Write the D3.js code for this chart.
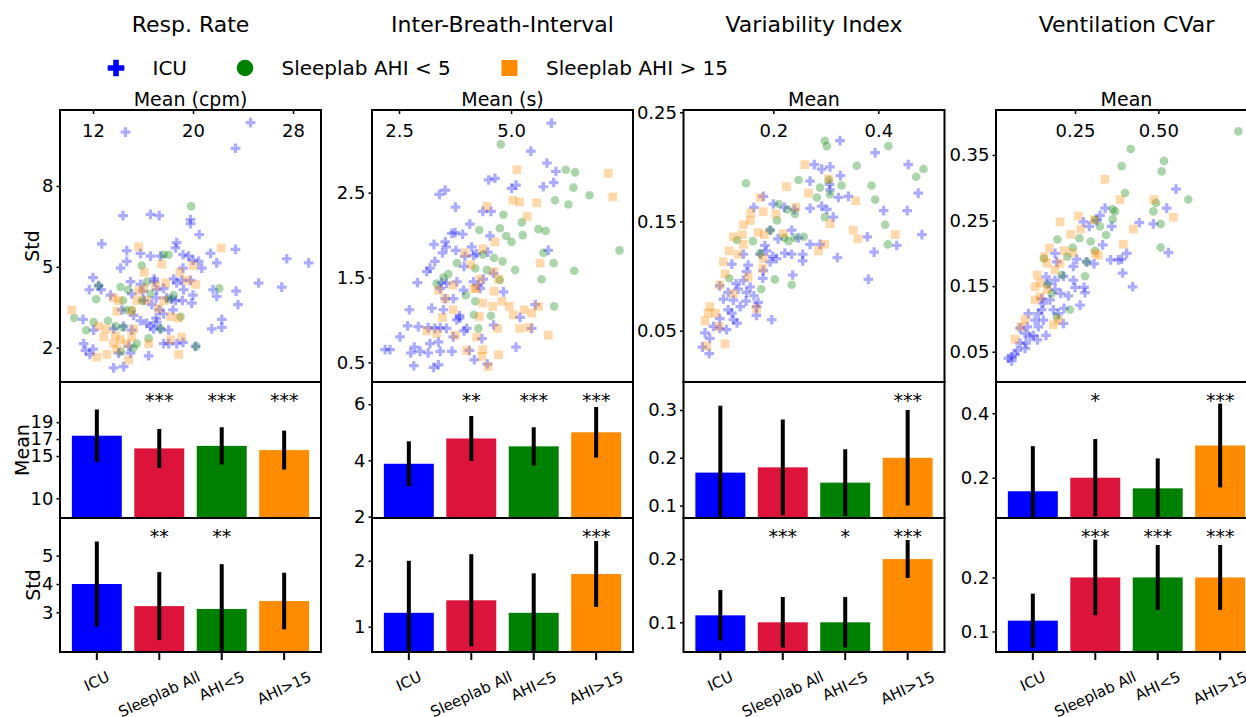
<!DOCTYPE html>
<html><head>
<meta charset="utf-8">
<title>Breathing features - ICU vs Sleeplab</title>
<script src="https://d3js.org/d3.v7.min.js"></script>
<style>
  body { margin: 0; background: #fff; }
  svg text { font-family: "DejaVu Sans", sans-serif; fill: #000; }
  .frame { fill: none; stroke: #000; stroke-width: 2px; }
  .axis .domain { display: none; }
  .axis line { stroke: #000; stroke-width: 1.5px; }
</style>
</head>
<body>
<svg id="fig" width="1246" height="717"></svg>
<script>
// ---- data ----
const titles = ["Resp. Rate", "Inter-Breath-Interval", "Variability Index", "Ventilation CVar"];
const xLabels = ["Mean (cpm)", "Mean (s)", "Mean", "Mean"];
const groups = ["ICU", "Sleeplab All", "AHI<5", "AHI>15"];
const legendNames = ["ICU", "Sleeplab AHI < 5", "Sleeplab AHI > 15"];

// scatter: [mean, std] per patient
const rrIcu = [[14.6,10.0],[24.6,10.35],[23.4,9.4],[14.4,6.9],[16.6,6.95],[17.3,6.9],[19.8,6.75],[19.8,6.6],[20.5,6.2],[12.7,5.85],[14.7,5.6],[15.8,5.5],[16.6,5.4],[17.4,5.4],[18.7,5.9],[18.6,5.7],[19.2,5.45],[19.65,5.4],[20.0,5.25],[20.45,5.2],[20.7,4.95],[21.4,5.5],[21.9,5.15],[23.4,5.65],[27.5,5.3],[29.25,5.15],[12.0,4.6],[11.7,4.15],[12.45,4.3],[13.4,3.95],[14.2,4.95],[14.7,5.2],[15.0,4.45],[15.8,4.35],[16.0,4.1],[16.1,3.75],[16.9,4.55],[16.9,4.45],[17.1,4.15],[17.65,4.2],[17.9,3.85],[17.05,3.85],[18.45,4.55],[18.7,4.4],[19.1,4.5],[19.25,4.15],[19.8,4.5],[20.0,3.95],[19.15,3.75],[18.6,3.75],[19.9,3.65],[18.4,3.4],[17.3,3.4],[16.7,3.6],[15.8,3.0],[16.3,2.9],[16.6,2.8],[17.1,2.95],[16.85,2.7],[17.4,2.7],[18.05,2.65],[17.65,2.15],[18.05,2.15],[18.7,2.15],[19.2,2.2],[17.65,3.25],[17.05,3.1],[15.25,3.2],[13.65,2.7],[14.45,2.8],[15.1,2.65],[14.85,2.05],[15.0,1.8],[14.05,1.8],[13.65,1.25],[14.45,1.3],[16.45,1.7],[11.25,2.15],[12.0,1.95],[11.75,1.75],[11.4,1.9],[11.2,3.05],[12.05,2.65],[14.3,3.4],[12.65,4.15],[20.2,2.05],[21.6,4.15],[21.9,3.9],[22.3,3.05],[22.3,2.75],[21.5,2.7],[23.45,4.1],[23.6,3.6],[25.25,4.4],[27.1,4.25],[19.2,4.95],[15.1,4.0],[18.3,3.8]];
const rrAhiLow = [[19.85,7.25],[18.05,5.45],[17.65,5.45],[15.9,5.05],[12.45,4.3],[12.25,3.8],[10.5,3.1],[11.45,2.65],[12.05,2.95],[13.2,3.0],[14.2,4.25],[14.8,4.15],[14.4,3.75],[14.65,3.4],[15.1,3.4],[13.8,2.8],[14.4,2.75],[15.25,2.0],[14.25,1.85],[15.5,2.15],[16.45,2.35],[17.4,2.7],[18.05,3.8],[15.9,3.75],[20.25,2.05],[22.1,4.2],[19.0,3.15],[16.6,4.0],[16.3,4.45],[18.45,3.95]];
const rrAhiHigh = [[10.3,3.4],[15.65,5.75],[22.25,5.7],[16.1,4.8],[17.5,5.1],[17.8,4.4],[17.0,4.3],[15.65,4.1],[15.5,3.75],[16.3,3.75],[15.1,3.35],[13.9,3.35],[13.65,3.85],[12.45,2.8],[13.05,2.7],[12.85,2.4],[13.8,2.45],[13.65,2.15],[13.9,1.95],[13.1,1.75],[12.3,1.65],[14.85,1.55],[14.7,2.15],[15.1,2.4],[15.25,2.7],[16.45,2.15],[17.25,3.45],[18.2,3.15],[18.85,3.1],[18.2,2.3],[19.1,2.4],[18.85,1.75],[18.95,4.8],[19.5,4.5],[20.2,4.35],[20.0,5.05],[17.65,3.75],[16.05,4.2],[14.05,3.75],[14.2,2.3]];

const ibiIcu = [[5.9,3.32],[5.44,2.99],[5.8,2.85],[6.0,2.75],[4.5,2.65],[4.64,2.67],[5.11,2.59],[5.01,2.55],[5.72,2.57],[5.95,2.62],[3.4,2.48],[3.53,2.53],[3.76,2.33],[4.37,2.28],[4.55,2.28],[4.08,2.13],[3.68,2.02],[3.75,2.03],[3.92,2.01],[4.53,1.99],[3.28,1.89],[3.53,1.92],[3.55,1.86],[3.77,1.82],[4.12,1.86],[3.97,1.75],[4.16,1.76],[4.48,1.8],[3.47,1.79],[3.3,1.69],[3.12,1.57],[3.19,1.61],[2.91,1.44],[3.45,1.44],[3.56,1.43],[3.42,1.37],[3.79,1.45],[3.94,1.35],[4.16,1.45],[4.27,1.41],[4.31,1.37],[3.53,1.25],[3.71,1.25],[3.23,1.14],[3.49,1.12],[2.73,1.12],[2.93,0.92],[2.69,0.93],[2.52,0.8],[3.15,0.91],[3.3,0.9],[3.42,0.91],[3.56,0.9],[3.79,1.0],[3.85,1.05],[3.95,0.87],[4.01,0.9],[3.71,0.8],[3.19,0.72],[3.38,0.74],[2.84,0.68],[2.97,0.63],[2.76,0.61],[3.15,0.61],[3.42,0.63],[3.68,0.63],[2.19,0.65],[2.3,0.65],[2.83,0.46],[3.27,0.44],[3.38,0.47],[4.07,0.64],[4.18,0.53],[4.35,0.78],[4.47,0.48],[4.61,0.94],[5.2,1.03],[5.11,0.68],[5.46,0.9],[5.54,1.18],[5.83,1.82],[4.23,1.78],[4.61,1.55],[4.38,1.48],[4.83,1.33],[3.95,1.63],[3.85,1.02]];
const ibiAhiLow = [[4.77,3.07],[6.22,2.77],[6.43,2.74],[6.39,2.56],[6.75,2.47],[5.98,2.41],[6.28,2.36],[4.83,2.24],[5.24,2.15],[4.29,2.06],[4.75,2.08],[4.89,1.99],[5.01,1.92],[5.26,2.0],[5.61,2.07],[5.77,2.05],[5.72,1.79],[7.42,1.82],[4.37,1.77],[4.62,1.73],[3.79,1.67],[4.81,1.69],[5.95,1.67],[3.6,1.54],[3.49,1.5],[3.34,1.43],[3.99,1.29],[4.2,1.61],[4.46,1.59],[4.75,1.47],[5.09,1.59],[5.68,1.48],[6.41,1.58],[4.2,1.22],[5.96,1.16],[4.27,0.9],[4.17,1.06],[4.55,1.05]];
const ibiAhiHigh = [[5.13,2.77],[7.17,2.73],[7.27,2.45],[4.46,2.34],[5.04,2.41],[5.19,2.39],[5.57,2.38],[5.36,2.22],[4.37,1.84],[4.64,1.92],[3.97,1.79],[4.1,1.65],[5.65,1.67],[4.61,1.57],[4.31,1.48],[4.72,1.48],[3.38,1.35],[3.7,1.41],[4.22,1.37],[4.62,1.34],[3.53,1.25],[4.37,1.2],[4.59,1.16],[4.79,1.22],[4.96,1.16],[5.29,1.12],[5.46,1.08],[5.61,1.16],[5.05,1.06],[3.47,1.03],[3.71,1.12],[3.12,0.87],[3.34,0.84],[3.75,0.82],[4.23,0.8],[4.7,0.9],[5.19,0.9],[5.39,0.91],[5.83,0.82],[4.01,0.64],[4.37,0.65],[4.35,0.57],[4.72,0.59],[4.49,0.45],[4.29,1.04],[4.17,1.37]];

const viIcu = [[0.327,0.224],[0.394,0.213],[0.457,0.202],[0.476,0.176],[0.278,0.202],[0.292,0.198],[0.308,0.2],[0.328,0.192],[0.307,0.184],[0.308,0.179],[0.27,0.187],[0.324,0.172],[0.343,0.173],[0.181,0.173],[0.163,0.163],[0.2,0.166],[0.221,0.163],[0.24,0.161],[0.27,0.162],[0.292,0.164],[0.302,0.161],[0.314,0.154],[0.41,0.16],[0.455,0.16],[0.483,0.138],[0.379,0.136],[0.435,0.128],[0.392,0.122],[0.27,0.129],[0.289,0.129],[0.248,0.135],[0.235,0.142],[0.322,0.117],[0.194,0.142],[0.209,0.134],[0.184,0.128],[0.187,0.123],[0.199,0.118],[0.222,0.121],[0.235,0.12],[0.256,0.12],[0.256,0.114],[0.206,0.116],[0.175,0.12],[0.152,0.11],[0.149,0.104],[0.143,0.12],[0.121,0.111],[0.237,0.101],[0.18,0.098],[0.381,0.097],[0.143,0.096],[0.129,0.093],[0.156,0.09],[0.133,0.088],[0.114,0.085],[0.149,0.085],[0.163,0.082],[0.171,0.076],[0.148,0.077],[0.124,0.078],[0.105,0.079],[0.098,0.091],[0.114,0.069],[0.121,0.066],[0.098,0.061],[0.086,0.054],[0.098,0.052],[0.079,0.043],[0.07,0.048],[0.065,0.035],[0.078,0.029],[0.111,0.051],[0.124,0.06],[0.131,0.057],[0.137,0.072],[0.168,0.072],[0.168,0.064],[0.197,0.06],[0.181,0.105],[0.194,0.113]];
const viAhiLow = [[0.148,0.185],[0.298,0.224],[0.302,0.219],[0.419,0.219],[0.359,0.201],[0.486,0.198],[0.472,0.191],[0.248,0.188],[0.289,0.181],[0.306,0.188],[0.33,0.183],[0.387,0.183],[0.283,0.172],[0.394,0.17],[0.308,0.175],[0.21,0.166],[0.227,0.161],[0.207,0.151],[0.241,0.157],[0.298,0.154],[0.413,0.147],[0.418,0.129],[0.131,0.133],[0.161,0.132],[0.194,0.142],[0.221,0.135],[0.241,0.135],[0.258,0.136],[0.229,0.132],[0.175,0.121],[0.203,0.097],[0.235,0.092],[0.177,0.088],[0.116,0.098]];
const viAhiHigh = [[0.26,0.202],[0.305,0.189],[0.225,0.182],[0.267,0.176],[0.175,0.172],[0.357,0.169],[0.157,0.158],[0.181,0.159],[0.205,0.157],[0.243,0.163],[0.156,0.151],[0.143,0.147],[0.308,0.148],[0.352,0.142],[0.361,0.134],[0.432,0.138],[0.124,0.136],[0.141,0.138],[0.171,0.14],[0.183,0.138],[0.219,0.139],[0.143,0.129],[0.116,0.123],[0.133,0.12],[0.298,0.129],[0.286,0.123],[0.105,0.113],[0.108,0.102],[0.181,0.116],[0.18,0.107],[0.098,0.092],[0.124,0.084],[0.079,0.072],[0.076,0.066],[0.09,0.066],[0.07,0.059],[0.097,0.054],[0.108,0.038],[0.073,0.036],[0.168,0.07],[0.152,0.099]];

const vcIcu = [[0.553,0.298],[0.525,0.269],[0.485,0.245],[0.443,0.247],[0.53,0.201],[0.34,0.269],[0.325,0.258],[0.315,0.25],[0.275,0.248],[0.36,0.241],[0.333,0.213],[0.293,0.241],[0.405,0.2],[0.39,0.191],[0.38,0.19],[0.357,0.19],[0.393,0.17],[0.423,0.149],[0.307,0.184],[0.285,0.187],[0.255,0.191],[0.245,0.18],[0.19,0.2],[0.195,0.187],[0.215,0.165],[0.245,0.159],[0.25,0.148],[0.277,0.148],[0.28,0.14],[0.265,0.121],[0.217,0.116],[0.215,0.093],[0.23,0.135],[0.207,0.139],[0.19,0.145],[0.17,0.154],[0.163,0.164],[0.175,0.129],[0.15,0.131],[0.14,0.108],[0.15,0.114],[0.11,0.108],[0.13,0.098],[0.163,0.075],[0.14,0.088],[0.107,0.088],[0.125,0.075],[0.1,0.078],[0.085,0.086],[0.103,0.063],[0.137,0.068],[0.085,0.063],[0.077,0.052],[0.1,0.055],[0.06,0.042],[0.07,0.046],[0.05,0.04],[0.06,0.036],[0.115,0.073],[0.155,0.124],[0.185,0.114],[0.2,0.108],[0.19,0.159],[0.155,0.098]];
const vcAhiLow = [[0.74,0.386],[0.417,0.359],[0.39,0.333],[0.517,0.341],[0.51,0.325],[0.4,0.292],[0.59,0.282],[0.493,0.277],[0.485,0.264],[0.363,0.267],[0.37,0.264],[0.363,0.252],[0.325,0.241],[0.343,0.228],[0.507,0.245],[0.507,0.209],[0.31,0.251],[0.197,0.221],[0.263,0.223],[0.297,0.218],[0.227,0.195],[0.285,0.187],[0.28,0.165],[0.157,0.192],[0.21,0.167],[0.235,0.114],[0.195,0.103],[0.167,0.152],[0.18,0.139],[0.243,0.209],[0.31,0.204]];
const vcAhiHigh = [[0.34,0.313],[0.385,0.282],[0.487,0.282],[0.545,0.255],[0.26,0.257],[0.307,0.251],[0.205,0.248],[0.425,0.237],[0.237,0.229],[0.267,0.237],[0.395,0.214],[0.173,0.208],[0.217,0.204],[0.243,0.201],[0.31,0.2],[0.32,0.197],[0.157,0.195],[0.165,0.185],[0.19,0.175],[0.137,0.167],[0.145,0.155],[0.13,0.149],[0.167,0.145],[0.145,0.134],[0.13,0.129],[0.2,0.098],[0.087,0.088],[0.1,0.099],[0.07,0.069],[0.185,0.091],[0.205,0.185]];

// bar charts: group means with error bars
const rrMean = [17.4, 15.9, 16.2, 15.7],      rrMeanErr = [3.1, 2.3, 2.2, 2.3];
const rrStd = [4.0, 3.22, 3.12, 3.4],         rrStdErr = [1.5, 1.2, 1.58, 1.0];
const ibiMean = [3.88, 4.78, 4.5, 5.0],       ibiMeanErr = [0.8, 0.8, 0.68, 0.9];
const ibiStd = [1.21, 1.4, 1.21, 1.8],        ibiStdErr = [0.79, 0.7, 0.6, 0.5];
const viMean = [0.169, 0.18, 0.148, 0.2],     viMeanErr = [0.14, 0.1, 0.07, 0.1];
const viStd = [0.111, 0.1, 0.1, 0.2],         viStdErr = [0.04, 0.04, 0.04, 0.03];
const vcMean = [0.158, 0.2, 0.167, 0.3],      vcMeanErr = [0.14, 0.12, 0.093, 0.13];
const vcStd = [0.12, 0.2, 0.2, 0.2],          vcStdErr = [0.05, 0.07, 0.06, 0.06];

const meanStars = [["", "***", "***", "***"], ["", "**", "***", "***"], ["", "", "", "***"], ["", "*", "", "***"]];
const stdStars  = [["", "**", "**", ""], ["", "", "", "***"], ["", "***", "*", "***"], ["", "***", "***", "***"]];

// axis limits and ticks
const scatXDomain = [[9.36, 30.24], [1.897, 7.72], [0.029, 0.526], [0.0129, 0.796]];
const scatYDomain = [[0.727, 10.82], [0.268, 3.475], [0.003, 0.2521], [0.0038, 0.4186]];
const scatXTicks = [[12, 20, 28], [2.5, 5.0], [0.2, 0.4], [0.25, 0.5]];
const scatYTicks = [[2, 5, 8], [0.5, 1.5, 2.5], [0.05, 0.15, 0.25], [0.05, 0.15, 0.25, 0.35]];
const meanDomain = [[7.67, 23.75], [1.95, 6.79], [0.074, 0.3586], [0.075, 0.497]];
const stdDomain = [[1.6, 6.33], [0.615, 2.65], [0.053, 0.265], [0.062, 0.31]];
const meanTicks = [[10, 15, 17, 19], [2, 4, 6], [0.1, 0.2, 0.3], [0.2, 0.4]];
const stdTicks = [[3, 4, 5], [1, 2], [0.1, 0.2], [0.1, 0.2]];

const scatter = [
  [rrIcu, rrAhiLow, rrAhiHigh],
  [ibiIcu, ibiAhiLow, ibiAhiHigh],
  [viIcu, viAhiLow, viAhiHigh],
  [vcIcu, vcAhiLow, vcAhiHigh]
];
const meanBars = [[rrMean, rrMeanErr], [ibiMean, ibiMeanErr], [viMean, viMeanErr], [vcMean, vcMeanErr]];
const stdBars = [[rrStd, rrStdErr], [ibiStd, ibiStdErr], [viStd, viStdErr], [vcStd, vcStdErr]];

// ---- layout ----
const svg = d3.select("#fig");
const colLeft = [60, 372, 683.5, 996];
const colW = 261;
const top0 = 110, scatBottom = 382, meanBottom = 518, stdBottom = 652;
const barColors = ["#0000ff", "#dc143c", "#008000", "#ff8c00"];
const seriesColors = ["#0000ff", "#008000", "#ff8c00"];
const fmtX = [d3.format("d"), d3.format(".1f"), d3.format(".1f"), d3.format(".2f")];
const fmtY = [d3.format("d"), d3.format(".1f"), d3.format(".2f"), d3.format(".2f")];
const fmtBar = [d3.format("d"), d3.format("d"), d3.format(".1f"), d3.format(".1f")];

const defs = svg.append("defs");
function clip(id, x, y, w, h) {
  defs.append("clipPath").attr("id", id).append("rect")
    .attr("x", x).attr("y", y).attr("width", w).attr("height", h);
  return "url(#" + id + ")";
}

// scatter markers, a bit larger than the first try
const plusPath = d3.symbol(d3.symbolCross).size(52)();
const circlePath = d3.symbol(d3.symbolCircle).size(Math.PI * 4.3 * 4.3)();
const squarePath = d3.symbol(d3.symbolSquare).size(76)();
const markerPaths = [plusPath, circlePath, squarePath];

function leftAxis(g, scale, ticks, fmt) {
  g.attr("class", "axis")
    .call(d3.axisLeft(scale).tickValues(ticks).tickFormat(fmt).tickSize(3.5).tickPadding(3))
    .attr("font-family", "DejaVu Sans").attr("font-size", 18);
}

function drawBars(c, vals, errs, stars, domain, ticks, y0, y1, id) {
  const x = d3.scaleLinear().domain([-0.59, 3.59]).range([colLeft[c], colLeft[c] + colW]);
  const y = d3.scaleLinear().domain(domain).range([y1, y0]);
  const g = svg.append("g").attr("clip-path", clip(id, colLeft[c], y0, colW, y1 - y0));
  g.selectAll("rect").data(vals).join("rect")
    .attr("x", (d, i) => x(i - 0.4))
    .attr("width", x(0.4) - x(-0.4))
    .attr("y", d => y(d))
    .attr("height", d => y1 + 5 - y(d))
    .attr("fill", (d, i) => barColors[i]);
  g.selectAll("line.err").data(vals).join("line")
    .attr("class", "err")
    .attr("x1", (d, i) => x(i)).attr("x2", (d, i) => x(i))
    .attr("y1", (d, i) => y(d - errs[i])).attr("y2", (d, i) => y(d + errs[i]))
    .attr("stroke", "#000").attr("stroke-width", 4);
  svg.append("g").selectAll("text").data(stars).join("text")
    .attr("x", (d, i) => x(i)).attr("y", y0 + 25)
    .attr("text-anchor", "middle").attr("font-size", 19)
    .text(d => d);
  leftAxis(svg.append("g").attr("transform", "translate(" + colLeft[c] + ",0)"), y, ticks, fmtBar[c]);
  svg.append("rect").attr("class", "frame")
    .attr("x", colLeft[c]).attr("y", y0).attr("width", colW).attr("height", y1 - y0);
  return x;
}

for (let c = 0; c < 4; c++) {
  const L = colLeft[c];
  svg.append("text").attr("x", L + colW / 2).attr("y", 32)
    .attr("text-anchor", "middle").attr("font-size", 22).text(titles[c]);
  svg.append("text").attr("x", L + colW / 2).attr("y", 106)
    .attr("text-anchor", "middle").attr("font-size", 19).text(xLabels[c]);

  // scatter
  const x = d3.scaleLinear().domain(scatXDomain[c]).range([L, L + colW]);
  const y = d3.scaleLinear().domain(scatYDomain[c]).range([scatBottom, top0]);
  const pts = svg.append("g").attr("clip-path", clip("sc" + c, L, top0, colW, scatBottom - top0));
  scatter[c].forEach((series, s) => {
    pts.append("g").selectAll("path").data(series).join("path")
      .attr("d", markerPaths[s])
      .attr("transform", d => "translate(" + x(d[0]) + "," + y(d[1]) + ")")
      .attr("fill", seriesColors[s])
      .attr("fill-opacity", 0.33);
  });
  svg.append("g").attr("class", "axis").attr("transform", "translate(0," + top0 + ")")
    .call(d3.axisTop(x).tickValues(scatXTicks[c]).tickFormat(fmtX[c]).tickSizeInner(-4).tickSizeOuter(0).tickPadding(-27))
    .attr("font-family", "DejaVu Sans").attr("font-size", 18);
  leftAxis(svg.append("g").attr("transform", "translate(" + L + ",0)"), y, scatYTicks[c], fmtY[c]);
  svg.append("rect").attr("class", "frame")
    .attr("x", L).attr("y", top0).attr("width", colW).attr("height", scatBottom - top0);

  // bars
  drawBars(c, meanBars[c][0], meanBars[c][1], meanStars[c], meanDomain[c], meanTicks[c], scatBottom, meanBottom, "mb" + c);
  const bx = drawBars(c, stdBars[c][0], stdBars[c][1], stdStars[c], stdDomain[c], stdTicks[c], meanBottom, stdBottom, "sb" + c);

  // category ticks + rotated labels
  svg.append("g").selectAll("line").data(groups).join("line")
    .attr("x1", (d, i) => bx(i)).attr("x2", (d, i) => bx(i))
    .attr("y1", stdBottom).attr("y2", stdBottom + 8)
    .attr("stroke", "#000").attr("stroke-width", 2);
  const fs = 15, ang = 25 * Math.PI / 180;
  svg.append("g").selectAll("text").data(groups).join("text")
    .attr("font-size", fs).attr("text-anchor", "middle").attr("dominant-baseline", "central")
    .text(d => d)
    .attr("transform", function (d, i) {
      const len = this.getComputedTextLength();
      const h = len * Math.sin(ang) + 1.164 * fs * Math.cos(ang);
      return "translate(" + bx(i) + "," + (668 + h / 2) + ") rotate(-25)";
    });
}

// y labels on the first column
const yLabels = [["Std", 32, (top0 + scatBottom) / 2], ["Mean", 22, (scatBottom + meanBottom) / 2], ["Std", 33, (meanBottom + stdBottom) / 2]];
svg.append("g").selectAll("text").data(yLabels).join("text")
  .attr("font-size", 19).attr("text-anchor", "middle").attr("dominant-baseline", "central")
  .attr("transform", d => "translate(" + d[1] + "," + d[2] + ") rotate(-90)")
  .text(d => d[0]);

// legend
const legendX = [116, 245, 509.5];
const legendMarks = [d3.symbol(d3.symbolCross).size(155)(), d3.symbol(d3.symbolCircle).size(Math.PI * 8.3 * 8.3)(), d3.symbol(d3.symbolSquare).size(256)()];
const leg = svg.append("g");
legendNames.forEach((name, i) => {
  leg.append("path").attr("d", legendMarks[i])
    .attr("transform", "translate(" + legendX[i] + ",68)")
    .attr("fill", seriesColors[i]);
  leg.append("text").attr("x", legendX[i] + 36.5).attr("y", 75)
    .attr("font-size", 20).text(name);
});
</script>
</body>
</html>
